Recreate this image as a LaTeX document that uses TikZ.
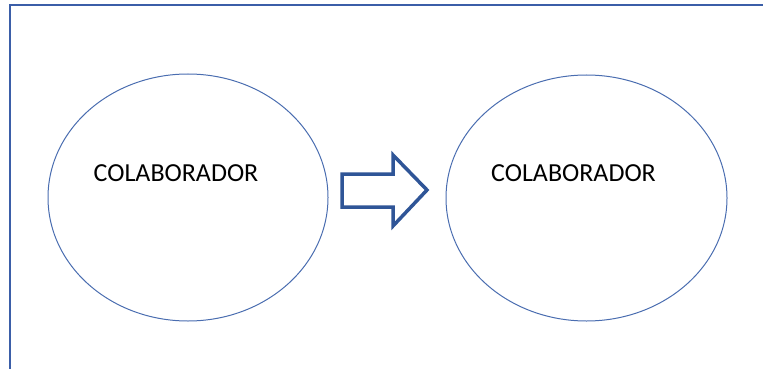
\documentclass[tikz,border=0pt]{standalone}
\usepackage{fontspec}
\setmainfont{Carlito}
\definecolor{frameblue}{HTML}{3B5EA8}
\definecolor{ringblue}{HTML}{4A6DB0}
\definecolor{arrowblue}{HTML}{2F5597}
\begin{document}
\begin{tikzpicture}[x=1pt,y=-1pt,
  bubble/.style={draw=ringblue,line width=1pt},
  label/.style={font=\fontsize{26}{31}\selectfont,text=black}]
\useasboundingbox (0,0) rectangle (763,369);
% page frame: top and left edges
\draw[frameblue,line width=2pt] (9.5,369) -- (9.5,5) -- (763,5);
% the two circles
\draw[bubble] (188,197.5) ellipse [x radius=140,y radius=123.5];
\draw[bubble] (586.5,198) ellipse [x radius=140.5,y radius=123];
\node[label] (left) at (176,173) {COLABORADOR};
\node[label] (right) at (573.5,173) {COLABORADOR};
% block arrow between them
\draw[arrowblue,line width=3.5pt,line join=miter]
  (342,174) -- (393,174) -- (393,155) -- (427,190) -- (393,226) -- (393,207) -- (342,207) -- cycle;
\end{tikzpicture}
\end{document}
